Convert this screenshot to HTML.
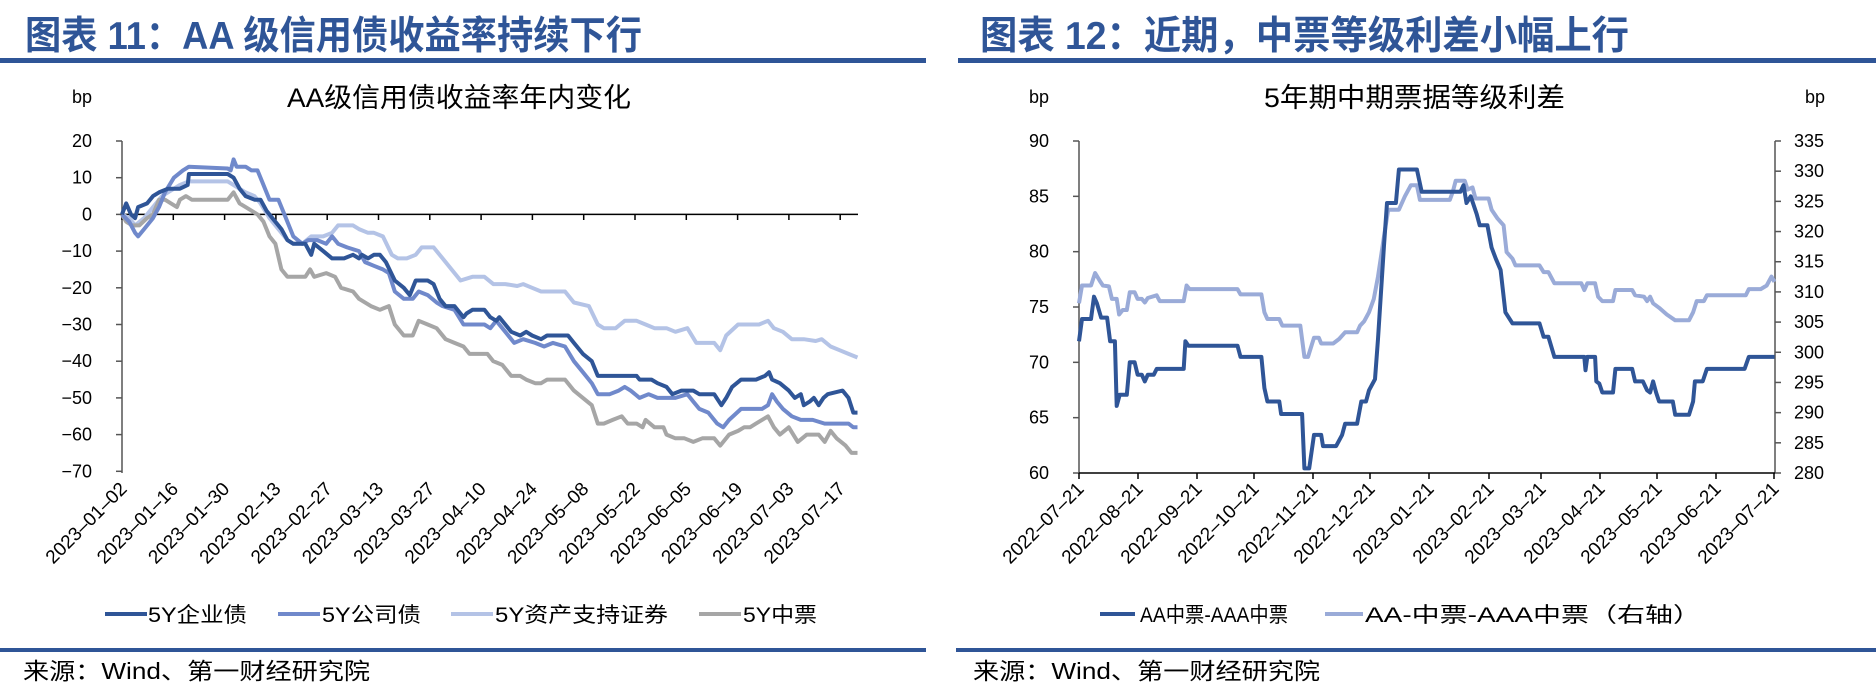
<!DOCTYPE html>
<html><head><meta charset="utf-8">
<style>
html,body{margin:0;padding:0;background:#fff;}
svg{display:block;font-family:"Liberation Sans","Noto Sans CJK SC",sans-serif;}
.tt{font-weight:bold;fill:#2f5597;font-size:39px;}
.ax{font-size:18px;fill:#000;}
.lg{font-size:21px;fill:#000;}
.src{font-size:23px;fill:#000;}
</style></head><body>
<svg id="s" width="1876" height="700" viewBox="0 0 1876 700">
<rect width="1876" height="700" fill="#fff"/>
<!-- Left panel -->
<text class="tt" x="25" y="49" textLength="617" lengthAdjust="spacingAndGlyphs">图表 11：AA 级信用债收益率持续下行</text>
<rect x="0" y="58" width="926" height="5" fill="#2f5597"/>
<text class="ax" x="72" y="103">bp</text>
<text x="287" y="107" font-size="27" textLength="344" lengthAdjust="spacingAndGlyphs">AA级信用债收益率年内变化</text>
<g id="lyax" class="ax" text-anchor="end"></g>
<line x1="122" y1="141" x2="122" y2="473" stroke="#555" stroke-width="1.5"/>
<line x1="122" y1="214.4" x2="858" y2="214.4" stroke="#000" stroke-width="1.5"/>
<g id="lticks"></g>
<g id="lser" fill="none" stroke-width="4" stroke-linejoin="round"></g>
<line x1="105" y1="614" x2="147" y2="614" stroke="#2f5597" stroke-width="4"/><text class="lg" x="148" y="622" textLength="99" lengthAdjust="spacingAndGlyphs">5Y企业债</text>
<line x1="278" y1="614" x2="320" y2="614" stroke="#7089cb" stroke-width="4"/><text class="lg" x="322" y="622" textLength="99" lengthAdjust="spacingAndGlyphs">5Y公司债</text>
<line x1="451" y1="614" x2="493" y2="614" stroke="#b4c3e6" stroke-width="4"/><text class="lg" x="495" y="622" textLength="173" lengthAdjust="spacingAndGlyphs">5Y资产支持证券</text>
<line x1="699" y1="614" x2="741" y2="614" stroke="#a6a6a6" stroke-width="4"/><text class="lg" x="743" y="622" textLength="74" lengthAdjust="spacingAndGlyphs">5Y中票</text>
<rect x="0" y="648" width="926" height="4" fill="#2f5597"/>
<text class="src" x="23" y="679" textLength="347" lengthAdjust="spacingAndGlyphs">来源：Wind、第一财经研究院</text>

<!-- Right panel -->
<text class="tt" x="980" y="49" textLength="649" lengthAdjust="spacingAndGlyphs">图表 12：近期，中票等级利差小幅上行</text>
<rect x="958" y="58" width="918" height="5" fill="#2f5597"/>
<text class="ax" x="1029" y="103">bp</text>
<text class="ax" x="1805" y="103">bp</text>
<text x="1264" y="107" font-size="27" textLength="301" lengthAdjust="spacingAndGlyphs">5年期中期票据等级利差</text>
<g id="ryax" class="ax"></g>
<line x1="1079" y1="141" x2="1079" y2="473" stroke="#555" stroke-width="1.5"/>
<line x1="1775" y1="141" x2="1775" y2="473" stroke="#555" stroke-width="1.5"/>
<line x1="1079" y1="473" x2="1775" y2="473" stroke="#000" stroke-width="1.5"/>
<g id="rticks"></g>
<g id="rser" fill="none" stroke-width="4" stroke-linejoin="round"></g>
<line x1="1100" y1="614" x2="1135" y2="614" stroke="#2f5597" stroke-width="4"/><text class="lg" x="1140" y="622" textLength="148" lengthAdjust="spacingAndGlyphs">AA中票-AAA中票</text>
<line x1="1325" y1="614" x2="1363" y2="614" stroke="#9aabd8" stroke-width="4"/><text class="lg" x="1365" y="622" textLength="336" lengthAdjust="spacingAndGlyphs">AA-中票-AAA中票（右轴）</text>
<rect x="956" y="648" width="920" height="4" fill="#2f5597"/>
<text class="src" x="973" y="679" textLength="347" lengthAdjust="spacingAndGlyphs">来源：Wind、第一财经研究院</text>
</svg>
<script>
var NS="http://www.w3.org/2000/svg";
function el(p,t,a,txt){var e=document.createElementNS(NS,t);for(var k in a)e.setAttribute(k,a[k]);if(txt!=null)e.textContent=txt;document.getElementById(p).appendChild(e);return e;}
for(var v=20;v>=-70;v-=10){var y=214.4-v*3.67;el("lyax","text",{x:92,y:y+6},String(v).replace("-","−"));el("lticks","line",{x1:116,y1:y,x2:122,y2:y,stroke:"#555","stroke-width":1.5});}
var ld=["2023-01-02","2023-01-16","2023-01-30","2023-02-13","2023-02-27","2023-03-13","2023-03-27","2023-04-10","2023-04-24","2023-05-08","2023-05-22","2023-06-05","2023-06-19","2023-07-03","2023-07-17"];
for(var i=0;i<ld.length;i++){var x=122+i*51.3;el("lticks","line",{x1:x,y1:214.4,x2:x,y2:220,stroke:"#000","stroke-width":1.5});
el("lticks","text",{x:x+6,y:490,"text-anchor":"end","font-size":"19",transform:"rotate(-45 "+(x+6)+" 490)"},ld[i].replace(/-/g,"–"));}
function LP(arr){var s="";for(var i=0;i<arr.length;i+=2){s+=(122+(arr[i]-203)*0.597).toFixed(1)+","+(214.4-arr[i+1]*3.67).toFixed(1)+" ";}return s;}
var s1=[203,0,210,3,218,0,225,-1,230,2,245,3,255,5,265,6,280,7,300,7,313,8,315,11,330,11,380,11,390,10,400,7,410,5,425,4,435,4,445,1,455,-1,470,-4,480,-7,490,-8,510,-8,520,-11,525,-8,540,-10,555,-12,575,-12,590,-11,600,-12,605,-11,615,-12,625,-11,635,-11,645,-13,660,-18,675,-20,685,-22,695,-18,715,-18,725,-19,735,-23,745,-25,760,-25,775,-28,780,-27,790,-26,810,-26,820,-28,830,-29,835,-28,845,-30,855,-32,870,-33,880,-32,890,-33,905,-34,915,-33,950,-33,960,-35,975,-38,990,-40,1000,-44,1065,-44,1070,-45,1090,-45,1100,-46,1115,-47,1125,-49,1140,-48,1160,-48,1170,-49,1195,-49,1207,-52,1215,-50,1225,-47,1240,-45,1265,-45,1280,-44,1287,-43,1292,-45,1305,-46,1320,-48,1330,-50,1340,-49,1345,-52,1355,-51,1362,-50,1370,-52,1378,-50,1385,-49,1410,-48,1420,-50,1428,-54,1435,-54];
var s2=[203,0,215,-2,225,-5,230,-6,240,-4,255,-1,265,2,275,6,290,10,305,12,315,13,380,12.5,385,12,390,15,395,13,410,13,420,12,430,12,440,8,450,4,465,4,475,0,490,-6,505,-8,515,-7,530,-7,545,-8,555,-6,565,-8,580,-9,600,-10,610,-13,625,-14,640,-15,650,-16,660,-21,675,-23,690,-23,700,-21,715,-22,730,-24,740,-25,760,-26,775,-30,810,-30,820,-31,830,-29,845,-32,860,-35,875,-34,895,-35,910,-36,925,-35,945,-36,960,-40,975,-43,990,-46,1000,-49,1020,-49,1035,-48,1045,-47,1055,-48,1070,-50,1085,-49,1100,-50,1130,-50,1150,-49,1160,-51,1170,-53,1185,-54,1200,-57,1210,-58,1220,-56,1240,-53,1275,-53,1285,-52,1292,-49,1300,-51,1310,-53,1325,-55,1340,-56,1360,-56,1380,-57,1420,-57,1428,-58,1435,-58];
var s3=[203,0,215,-1,225,-3,240,-1,255,2,270,5,290,7,300,8,315,9,380,9,390,8,410,6,425,5,435,3,450,-1,465,-4,480,-7,490,-8,505,-8,520,-6,540,-6,555,-5,565,-3,590,-3,600,-4,615,-5,625,-5,640,-6,655,-11,665,-12,680,-12,695,-11,705,-9,725,-9,740,-12,755,-15,765,-17,770,-18,790,-17,810,-17,825,-19,845,-19,865,-19.5,875,-19,890,-20,905,-21,945,-21,960,-24,985,-25,1000,-30,1010,-31,1030,-31,1045,-29,1065,-29,1080,-30,1095,-31,1115,-31,1130,-32,1150,-31,1165,-35,1195,-35,1205,-37,1215,-33,1235,-30,1270,-30,1285,-29,1295,-31,1310,-32,1325,-34,1345,-34,1365,-34.5,1375,-34,1390,-36,1405,-37,1420,-38,1435,-39];
var s4=[203,0,210,-2,220,-3,232,-3,245,-1,255,0,265,4,275,4,285,3,295,2,300,4,310,5,320,4,380,4,390,6,400,3,410,2,420,1,430,0,440,-2,450,-6,460,-8,470,-15,480,-17,510,-17,518,-15,525,-17,545,-16,560,-17,570,-20,590,-21,600,-23,620,-25,635,-26,650,-25,660,-30,675,-33,690,-33,700,-29,715,-30,730,-31,745,-34,760,-35,775,-36,785,-38,815,-38,825,-40,840,-41,855,-44,870,-44,880,-45,895,-46,905,-46,915,-45,945,-45,960,-48,975,-50,990,-52,1000,-57,1010,-57,1025,-56,1040,-55,1050,-57,1065,-57,1075,-58,1080,-56,1095,-58,1110,-58,1115,-60,1130,-61,1145,-61,1160,-62,1175,-61,1195,-61,1205,-63,1220,-60,1235,-59,1245,-58,1255,-58,1265,-57,1285,-55,1295,-58,1305,-60,1320,-58,1335,-62,1350,-60,1370,-60,1380,-62,1390,-59,1400,-61,1415,-63,1425,-65,1435,-65];
el("lser","polyline",{points:LP(s3),stroke:"#b4c3e6"});
el("lser","polyline",{points:LP(s4),stroke:"#a6a6a6"});
el("lser","polyline",{points:LP(s2),stroke:"#7089cb"});
el("lser","polyline",{points:LP(s1),stroke:"#2f5597"});
for(var k=0;k<=6;k++){var v=90-k*5,y=141+k*(332/6);el("ryax","text",{x:1049,y:y+6,"text-anchor":"end"},String(v));el("rticks","line",{x1:1073,y1:y,x2:1079,y2:y,stroke:"#555","stroke-width":1.5});}
for(var k=0;k<=11;k++){var v=335-k*5,y=141+k*(332/11);el("ryax","text",{x:1794,y:y+6},String(v));el("rticks","line",{x1:1775,y1:y,x2:1781,y2:y,stroke:"#555","stroke-width":1.5});}
var rd=["2022-07-21","2022-08-21","2022-09-21","2022-10-21","2022-11-21","2022-12-21","2023-01-21","2023-02-21","2023-03-21","2023-04-21","2023-05-21","2023-06-21","2023-07-21"];
var rx=[1079,1138,1197,1254,1313,1370,1429,1489,1541,1600,1657,1716,1774];
for(var i=0;i<rd.length;i++){var x=rx[i];el("rticks","line",{x1:x,y1:473,x2:x,y2:479,stroke:"#000","stroke-width":1.5});
el("rticks","text",{x:x+6,y:490,"text-anchor":"end","font-size":"19",transform:"rotate(-45 "+(x+6)+" 490)"},rd[i].replace(/-/g,"–"));}
function RP(arr){var s="";for(var i=0;i<arr.length;i+=2){s+=(1079+(arr[i]-235)*0.598).toFixed(1)+","+(141+(arr[i+1]-316)*0.446).toFixed(1)+" ";}return s;}
var d=[235,765,240,715,255,715,260,665,265,680,272,712,282,712,287,765,295,765,298,910,303,885,315,885,320,812,328,812,333,840,340,840,345,855,350,840,360,840,365,827,410,827,413,765,418,775,500,775,505,800,540,800,545,870,550,900,570,900,573,928,608,928,612,1050,620,1050,628,975,640,975,643,1000,665,1000,675,975,680,950,700,950,707,900,715,900,720,875,730,850,735,760,745,550,750,455,765,455,770,380,800,380,808,430,873,430,878,415,883,455,890,440,900,480,905,505,918,505,925,555,932,580,940,605,948,700,960,725,1005,725,1012,755,1020,755,1030,800,1080,800,1082,830,1085,800,1098,800,1100,855,1105,860,1110,880,1128,880,1132,827,1160,827,1165,855,1178,855,1185,875,1190,880,1195,855,1200,880,1205,900,1228,900,1232,930,1255,930,1262,900,1265,855,1278,855,1285,827,1348,827,1355,800,1398,800];
var l=[235,680,240,640,255,640,262,612,270,630,275,640,285,642,290,670,298,670,302,705,308,695,315,695,320,655,328,655,333,670,340,670,345,678,350,668,365,662,370,675,410,675,415,640,420,648,500,648,505,660,540,660,545,700,550,715,570,715,575,730,605,730,612,800,618,800,628,757,636,757,640,770,660,770,670,760,680,745,700,745,705,730,712,720,720,700,728,670,735,620,745,530,752,470,770,470,780,440,790,415,800,415,805,448,855,448,860,430,865,405,880,405,885,425,893,420,898,445,920,445,925,470,935,490,945,505,950,565,960,580,965,595,1005,595,1012,610,1020,610,1030,635,1075,635,1080,650,1085,635,1098,635,1103,665,1110,675,1128,675,1132,650,1160,650,1165,662,1180,665,1185,675,1190,665,1195,680,1205,690,1218,705,1232,718,1255,718,1262,700,1268,675,1280,675,1285,662,1350,662,1355,648,1375,648,1385,640,1393,620,1398,632];
el("rser","polyline",{points:RP(l),stroke:"#9aabd8"});
el("rser","polyline",{points:RP(d),stroke:"#2f5597"});
</script>
</body></html>
